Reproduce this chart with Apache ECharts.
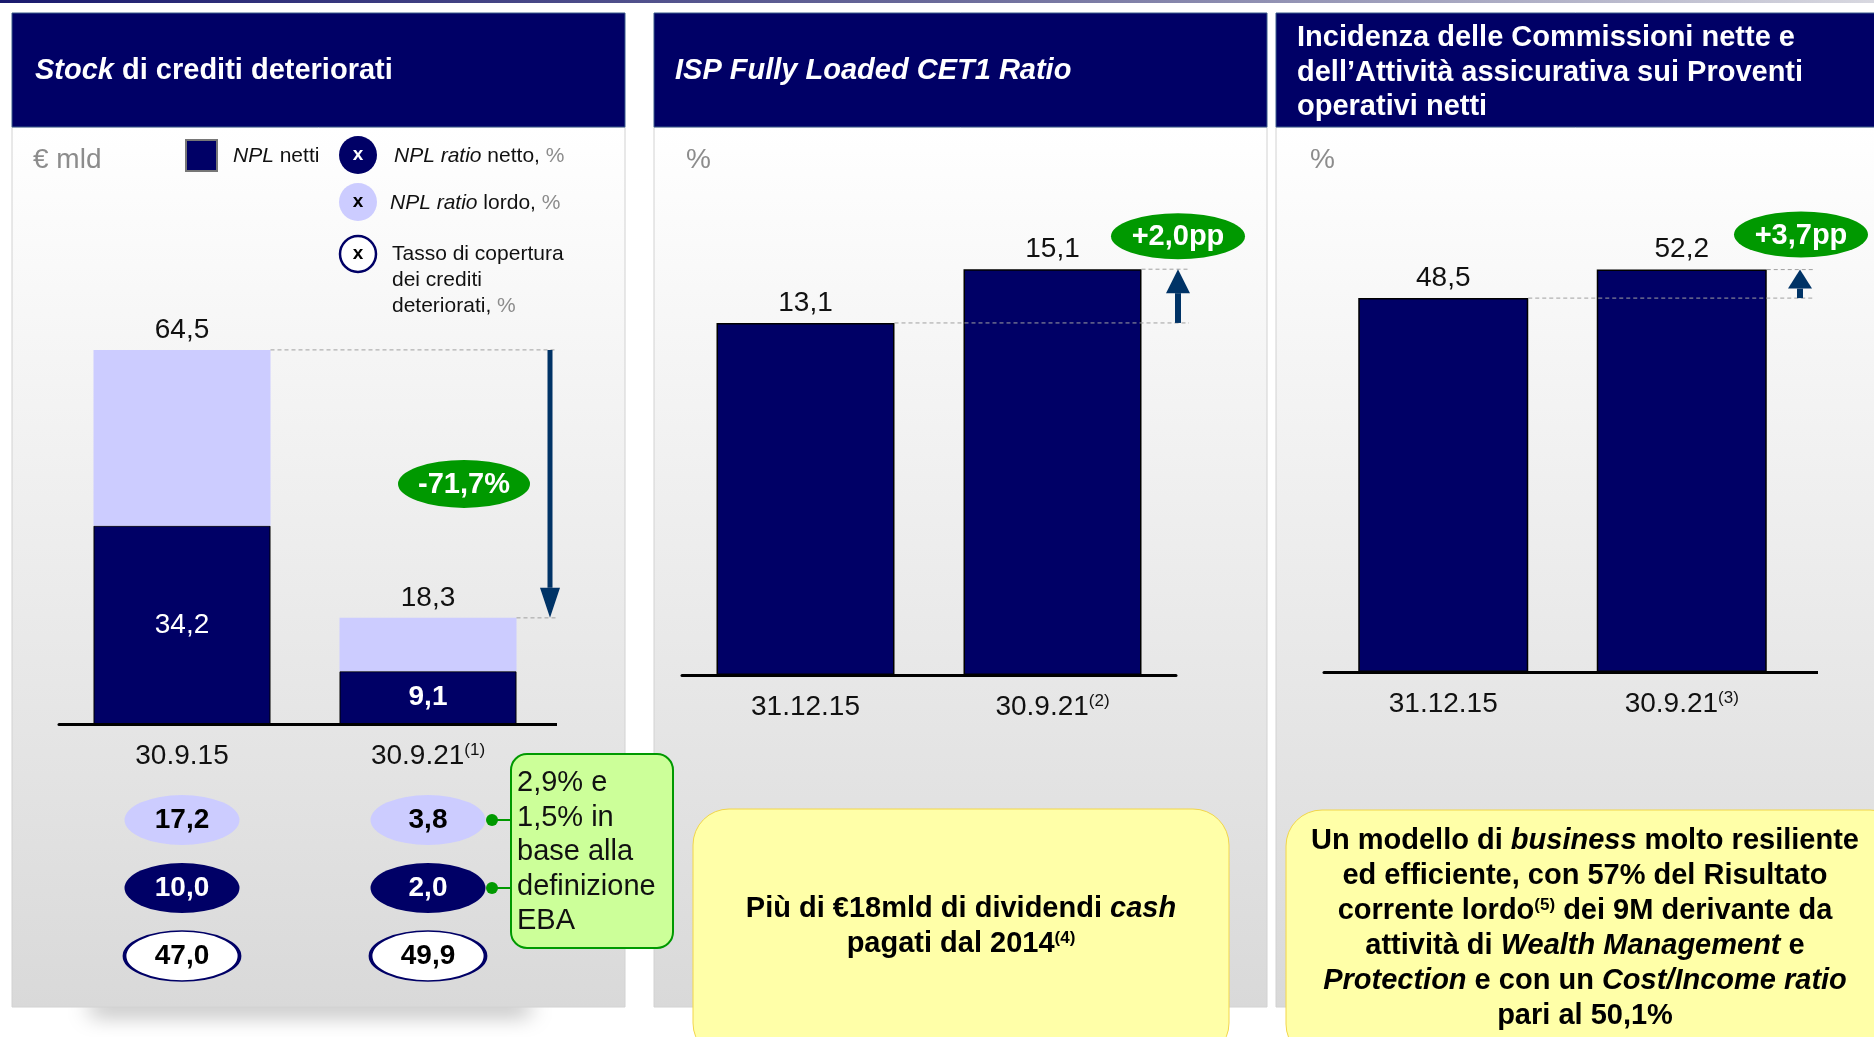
<!DOCTYPE html>
<html>
<head>
<meta charset="utf-8">
<script src="https://cdn.jsdelivr.net/npm/echarts@6/dist/echarts.min.js"></script>
<style>
html, body { margin: 0; padding: 0; background: #fff; }
#main { width: 1874px; height: 1037px; }
</style>
</head>
<body>
<div id="main"></div>
<script>
const FONT = "'Liberation Sans', Arial, sans-serif";
const NAVY = '#000066', LILAC = '#ccccff', GREEN = '#009900', ARROW = '#003366';

// Stock di crediti deteriorati, € mld
const stockDates = ['30.9.15', '30.9.21'];
const stockNotes = ['', '(1)'];
const nplGross = [64.5, 18.3];
const nplNet = [34.2, 9.1];
const nplRatioGross = [17.2, 3.8];
const nplRatioNet = [10.0, 2.0];
const coverage = [47.0, 49.9];
const stockChange = '-71,7%';

// ISP Fully Loaded CET1 Ratio, %
const cetDates = ['31.12.15', '30.9.21'];
const cetNotes = ['', '(2)'];
const cetValues = [13.1, 15.1];
const cetChange = '+2,0pp';

// Commissioni nette + assicurativa / proventi, %
const feeDates = ['31.12.15', '30.9.21'];
const feeNotes = ['', '(3)'];
const feeValues = [48.5, 52.2];
const feeChange = '+3,7pp';

const rows = ['lordo', 'netto', 'copertura'];

const fmt = v => v.toFixed(1).replace('.', ',');
const barW = [177, 178, 170];

const chart = echarts.init(document.getElementById('main'));

function xCat(grid, data, notes) {
	return {
		type: 'category', gridIndex: grid, data: data,
		axisLine: { lineStyle: { color: '#000', width: 3 } },
		axisTick: { show: false },
		axisLabel: {
			margin: 18,
			formatter: (v, i) => `{a|${v}}` + (notes[i] ? `{s|${notes[i]}}` : ''),
			rich: {
				a: { fontSize: 28, color: '#111', fontFamily: FONT },
				s: { fontSize: 17, color: '#111', fontFamily: FONT, verticalAlign: 'top' },
			},
		},
	};
}
const valLabel = { show: true, position: 'top', distance: 6, color: '#111', fontSize: 28, fontFamily: FONT };
const ellipse = 'path://M0,50 A50,50 0 1,1 100,50 A50,50 0 1,1 0,50 Z';

function ratioSeries(name, arr, row, fill, text, border) {
	return {
		name, type: 'scatter', xAxisIndex: 3, yAxisIndex: 3,
		symbol: ellipse, symbolSize: [115, 50], symbolKeepAspect: false,
		itemStyle: { color: fill, borderColor: border || fill, borderWidth: border ? 2.5 : 0, opacity: 1 },
		label: { show: true, position: 'inside', color: text, fontSize: 28, fontWeight: 'bold', fontFamily: FONT, formatter: p => fmt(p.value[2]) },
		data: arr.map((v, i) => [i, row, v]),
	};
}

chart.setOption({
	animation: false,
	textStyle: { fontFamily: FONT },
	grid: [
		{ left: 59, top: 318, width: 492, height: 406 },
		{ left: 682, top: 245, width: 494, height: 430 },
		{ left: 1324, top: 248, width: 477, height: 424 },
		{ left: 59, top: 786, width: 492, height: 204 },
	],
	xAxis: [
		xCat(0, stockDates, stockNotes),
		xCat(1, cetDates, cetNotes),
		xCat(2, feeDates, feeNotes),
		{ type: 'category', gridIndex: 3, data: stockDates, show: false },
	],
	yAxis: [
		{ type: 'value', gridIndex: 0, min: 0, max: 70, show: false },
		{ type: 'value', gridIndex: 1, min: 0, max: 16, show: false },
		{ type: 'value', gridIndex: 2, min: 0, max: 55, show: false },
		{ type: 'category', gridIndex: 3, data: rows, inverse: true, show: false },
	],
	series: [
		{
			name: 'NPL netti', type: 'bar', stack: 'npl', barWidth: barW[0],
			itemStyle: { color: NAVY, borderColor: '#000', borderWidth: 1 },
			label: { show: true, position: 'inside', color: '#fff', fontSize: 28, fontFamily: FONT, formatter: p => fmt(p.value) },
			data: nplNet.map((v, i) => ({ value: v, label: { fontWeight: i === 1 ? 'bold' : 'normal' } })),
		},
		{
			name: 'NPL lordi', type: 'bar', stack: 'npl', barWidth: barW[0],
			itemStyle: { color: LILAC },
			label: Object.assign({}, valLabel, { formatter: p => fmt(nplGross[p.dataIndex]) }),
			data: nplGross.map((v, i) => +(v - nplNet[i]).toFixed(1)),
		},
		{
			name: 'CET1', type: 'bar', xAxisIndex: 1, yAxisIndex: 1, barWidth: barW[1],
			itemStyle: { color: NAVY, borderColor: '#000', borderWidth: 1.5 },
			label: Object.assign({}, valLabel, { formatter: p => fmt(p.value) }),
			data: cetValues,
		},
		{
			name: 'Commissioni', type: 'bar', xAxisIndex: 2, yAxisIndex: 2, barWidth: barW[2],
			itemStyle: { color: NAVY, borderColor: '#000', borderWidth: 1.5 },
			label: Object.assign({}, valLabel, { formatter: p => fmt(p.value) }),
			data: feeValues,
		},
		ratioSeries('NPL ratio lordo', nplRatioGross, 0, LILAC, '#000'),
		ratioSeries('NPL ratio netto', nplRatioNet, 1, NAVY, '#fff'),
		ratioSeries('Tasso di copertura', coverage, 2, '#fff', '#000', NAVY),
	],
});

// --- annotations placed from the chart's own scales ---
const px = (g, x, y) => chart.convertToPixel({ gridIndex: g }, [x, y]);

function panel(x, w) {
	return [
		{ type: 'rect', shape: { x: x, y: 127, width: w, height: 880 }, z: -5,
			style: { fill: new echarts.graphic.LinearGradient(0, 0, 0, 1, [{ offset: 0, color: '#ffffff' }, { offset: 1, color: '#d9d9d9' }]), stroke: '#d2d2d2', lineWidth: 1 } },
		{ type: 'rect', shape: { x: x, y: 13, width: w, height: 114 }, z: -4,
			style: { fill: NAVY, stroke: '#3b5a8a', lineWidth: 1 } },
	];
}
function dashed(x1, x2, y) {
	return { type: 'line', shape: { x1, y1: y, x2, y2: y }, z: 10, style: { stroke: '#a0a0a0', lineWidth: 1, lineDash: [4, 3] } };
}
function axisExt(x1, x2, y) {
	const yy = Math.round(y) + 0.5;
	return { type: 'line', shape: { x1, y1: yy, x2, y2: yy }, z: 10, style: { stroke: '#000', lineWidth: 3 } };
}
function arrow(x, yFrom, yTo, headW, headH, shaftW) {
	const dir = yTo > yFrom ? 1 : -1;
	const base = yTo - dir * headH;
	return [
		{ type: 'line', shape: { x1: x, y1: yFrom, x2: x, y2: base }, z: 20, style: { stroke: ARROW, lineWidth: shaftW } },
		{ type: 'polygon', shape: { points: [[x - headW / 2, base], [x + headW / 2, base], [x, yTo]] }, z: 20, style: { fill: ARROW } },
	];
}
function badge(cx, cy, rx, ry, txt) {
	return [
		{ type: 'circle', x: cx, y: cy, scaleX: rx / ry, shape: { cx: 0, cy: 0, r: ry }, z: 20, style: { fill: GREEN } },
		{ type: 'text', x: cx, y: cy + 1, z: 21, style: { text: txt, fill: '#fff', fontSize: 29, fontWeight: 'bold', fontFamily: FONT, align: 'center', verticalAlign: 'middle' } },
	];
}
function txt(x, y, text, rich, extra) {
	return { type: 'text', x, y, z: 15, style: Object.assign({ text, rich, fontFamily: FONT, verticalAlign: 'middle' }, extra || {}) };
}
const white = { fill: '#fff', fontSize: 29, fontWeight: 'bold', fontFamily: FONT };
const whiteI = Object.assign({}, white, { fontStyle: 'italic' });
const legN = { fill: '#111', fontSize: 21, fontFamily: FONT };
const legI = Object.assign({}, legN, { fontStyle: 'italic' });
const legG = Object.assign({}, legN, { fill: '#8c8c8c' });
const yb = { fill: '#000', fontSize: 29, fontWeight: 'bold', fontFamily: FONT, lineHeight: 35 };
const ybi = Object.assign({}, yb, { fontStyle: 'italic' });
const ysup = { fill: '#000', fontSize: 17, fontWeight: 'bold', fontFamily: FONT, lineHeight: 35, verticalAlign: 'top', padding: [4, 0, 0, 0] };

const s1 = px(0, 0, nplGross[0]), s2 = px(0, 1, nplGross[1]);
const c1 = px(1, 0, cetValues[0]), c2 = px(1, 1, cetValues[1]);
const f1 = px(2, 0, feeValues[0]), f2 = px(2, 1, feeValues[1]);
const base0 = px(0, 1, 0)[1], base2 = px(2, 1, 0)[1];
const r1 = px(3, 1, 0), r2 = px(3, 1, 1);

const els = [].concat(
	[{ type: 'rect', shape: { x: 0, y: 0, width: 1874, height: 3 }, z: -6,
		style: { fill: new echarts.graphic.LinearGradient(0, 0, 1, 0, [{ offset: 0, color: '#1a1a6e' }, { offset: 0.5, color: '#6a6a9a' }, { offset: 1, color: '#d8d8e0' }]) } }],
	[{ type: 'rect', shape: { x: 90, y: 992, width: 440, height: 14 }, z: -7,
		style: { fill: '#999', shadowBlur: 22, shadowOffsetY: 8, shadowColor: 'rgba(0,0,0,0.35)' } }],
	panel(12, 613), panel(654, 613), panel(1276, 610),
	[
		txt(35, 71, '{bi|Stock}{b| di crediti deteriorati}', { b: white, bi: whiteI }),
		txt(675, 71, '{bi|ISP Fully Loaded CET1 Ratio}', { bi: whiteI }),
		txt(1297, 21, 'Incidenza delle Commissioni nette e\ndell’Attività assicurativa sui Proventi\noperativi netti', null,
			{ fill: '#fff', fontSize: 29, fontWeight: 'bold', lineHeight: 34.5, verticalAlign: 'top' }),
		txt(33, 160, '€ mld', null, { fill: '#8c8c8c', fontSize: 28 }),
		txt(686, 160, '%', null, { fill: '#8c8c8c', fontSize: 28 }),
		txt(1310, 160, '%', null, { fill: '#8c8c8c', fontSize: 28 }),
		// legend
		{ type: 'rect', shape: { x: 186, y: 140, width: 31, height: 31 }, z: 15, style: { fill: NAVY, stroke: '#777', lineWidth: 2 } },
		txt(233, 156, '{i|NPL}{n| netti}', { i: legI, n: legN }),
		{ type: 'circle', shape: { cx: 358, cy: 155, r: 19 }, z: 15, style: { fill: NAVY } },
		txt(358, 155, 'x', null, { fill: '#fff', fontSize: 19, fontWeight: 'bold', align: 'center' }),
		txt(394, 156, '{i|NPL ratio}{n| netto, }{g|%}', { i: legI, n: legN, g: legG }),
		{ type: 'circle', shape: { cx: 358, cy: 202, r: 19 }, z: 15, style: { fill: LILAC } },
		txt(358, 202, 'x', null, { fill: '#000', fontSize: 19, fontWeight: 'bold', align: 'center' }),
		txt(390, 203, '{i|NPL ratio}{n| lordo, }{g|%}', { i: legI, n: legN, g: legG }),
		{ type: 'circle', shape: { cx: 358, cy: 254, r: 18 }, z: 15, style: { fill: '#fff', stroke: NAVY, lineWidth: 2.5 } },
		txt(358, 254, 'x', null, { fill: '#000', fontSize: 19, fontWeight: 'bold', align: 'center' }),
		txt(392, 241, '{n|Tasso di copertura}\n{n|dei crediti}\n{n|deteriorati, }{g|%}',
			{ n: Object.assign({}, legN, { lineHeight: 26 }), g: Object.assign({}, legG, { lineHeight: 26 }) }, { verticalAlign: 'top' }),
	],
	// stock panel: dashed guides, arrow, change badge
	[axisExt(549, 557, base0)],
	[dashed(s1[0] + barW[0] / 2, 557, s1[1]), dashed(s2[0] + barW[0] / 2, 557, s2[1])],
	arrow(550, s1[1], s2[1], 20, 30, 5),
	badge(464, (s1[1] + s2[1]) / 2, 66, 24, stockChange),
	// EBA callout
	[
		{ type: 'line', shape: { x1: 492, y1: r1[1], x2: 511, y2: r1[1] }, z: 14, style: { stroke: GREEN, lineWidth: 2 } },
		{ type: 'line', shape: { x1: 492, y1: r2[1], x2: 511, y2: r2[1] }, z: 14, style: { stroke: GREEN, lineWidth: 2 } },
		{ type: 'circle', shape: { cx: 492, cy: r1[1], r: 6 }, z: 15, style: { fill: GREEN } },
		{ type: 'circle', shape: { cx: 492, cy: r2[1], r: 6 }, z: 15, style: { fill: GREEN } },
		{ type: 'rect', shape: { x: 511, y: 754, width: 162, height: 194, r: 16 }, z: 15, style: { fill: '#ccff99', stroke: GREEN, lineWidth: 2 } },
		txt(517, 766, '2,9% e\n1,5% in\nbase alla\ndefinizione\nEBA', null, { fill: '#111', fontSize: 29, lineHeight: 34.5, verticalAlign: 'top' }),
	],
	// CET1 panel
	[dashed(c1[0] + barW[1] / 2, 1189, c1[1]), dashed(c2[0] + barW[1] / 2, 1189, c2[1])],
	arrow(1178, c1[1], c2[1], 24, 24, 6),
	badge(1178, c2[1] - 33, 67, 23, cetChange),
	// fees panel
	[axisExt(1799, 1818, base2)],
	[dashed(f1[0] + barW[2] / 2, 1814, f1[1]), dashed(f2[0] + barW[2] / 2, 1814, f2[1])],
	arrow(1800, f1[1], f2[1], 24, 19, 6),
	badge(1801, f2[1] - 35, 67, 23, feeChange),
	// yellow notes
	[
		{ type: 'rect', shape: { x: 693, y: 809, width: 536, height: 250, r: 36 }, z: 15, style: { fill: '#ffffa8', stroke: '#f2d64a', lineWidth: 1 } },
		txt(961, 926, '{b|Più di €18mld di dividendi }{bi|cash}\n{b|pagati dal 2014}{s|(4)}', { b: yb, bi: ybi, s: ysup }, { align: 'center' }),
		{ type: 'rect', shape: { x: 1286, y: 810, width: 620, height: 250, r: 36 }, z: 15, style: { fill: '#ffffa8', stroke: '#f2d64a', lineWidth: 1 } },
		txt(1585, 928,
			'{b|Un modello di }{bi|business}{b| molto resiliente}\n' +
			'{b|ed efficiente, con 57% del Risultato}\n' +
			'{b|corrente lordo}{s|(5)}{b| dei 9M derivante da}\n' +
			'{b|attività di }{bi|Wealth Management}{b| e}\n' +
			'{bi|Protection}{b| e con un }{bi|Cost/Income ratio}\n' +
			'{b|pari al 50,1%}',
			{ b: yb, bi: ybi, s: ysup }, { align: 'center' }),
	]
);

chart.setOption({ graphic: { elements: els } });
</script>
</body>
</html>
